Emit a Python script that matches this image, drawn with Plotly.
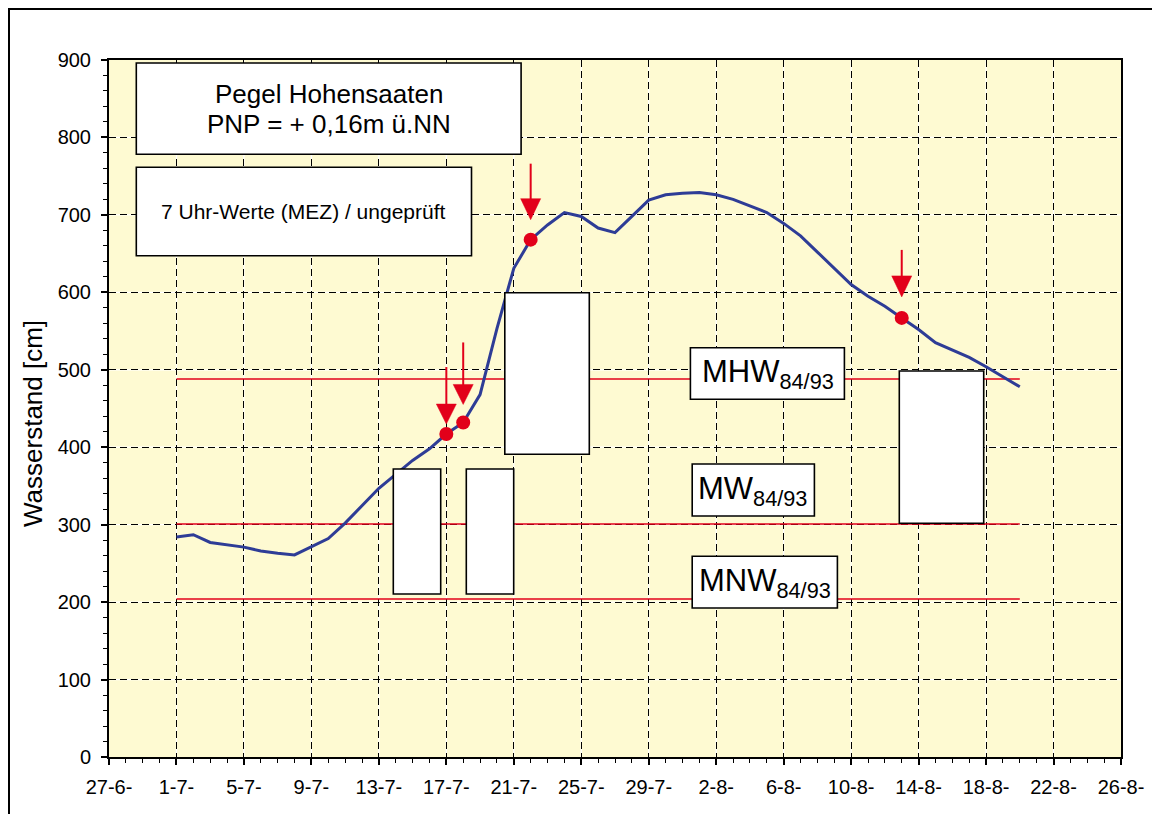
import plotly.graph_objects as go

# ---------------- data ----------------
dates = [
    "1997-07-01", "1997-07-02", "1997-07-03", "1997-07-04", "1997-07-05", "1997-07-06",
    "1997-07-07", "1997-07-08", "1997-07-09", "1997-07-10", "1997-07-11", "1997-07-12",
    "1997-07-13", "1997-07-14", "1997-07-15", "1997-07-16", "1997-07-17", "1997-07-18",
    "1997-07-19", "1997-07-20", "1997-07-21", "1997-07-22", "1997-07-23", "1997-07-24",
    "1997-07-25", "1997-07-26", "1997-07-27", "1997-07-28", "1997-07-29", "1997-07-30",
    "1997-07-31", "1997-08-01", "1997-08-02", "1997-08-03", "1997-08-04", "1997-08-05",
    "1997-08-06", "1997-08-07", "1997-08-08", "1997-08-09", "1997-08-10", "1997-08-11",
    "1997-08-12", "1997-08-13", "1997-08-14", "1997-08-15", "1997-08-16", "1997-08-17",
    "1997-08-18", "1997-08-19", "1997-08-20",
]
water_level = [
    284, 287, 277, 274, 271, 266,
    263, 261, 272, 282, 302, 325,
    347, 365, 383, 398, 417, 432,
    468, 553, 631, 668, 687, 703,
    698, 683, 677, 698, 719, 726,
    728, 729, 726, 720, 712, 703,
    689, 673, 652, 631, 610, 595,
    582, 567, 552, 535, 526, 516,
    504, 491, 478,
]
marker_dates = ["1997-07-17", "1997-07-18", "1997-07-22", "1997-08-13"]
marker_values = [417, 432, 668, 567]

ref_dates = ["1997-07-01", "1997-08-20"]
mhw_values = [488, 488]
mw_values = [301, 301]
mnw_values = [204, 204]

tick_dates = [
    "1997-06-27", "1997-07-01", "1997-07-05", "1997-07-09", "1997-07-13", "1997-07-17",
    "1997-07-21", "1997-07-25", "1997-07-29", "1997-08-02", "1997-08-06", "1997-08-10",
    "1997-08-14", "1997-08-18", "1997-08-22", "1997-08-26",
]
tick_labels = [
    "27-6-", "1-7-", "5-7-", "9-7-", "13-7-", "17-7-", "21-7-", "25-7-", "29-7-",
    "2-8-", "6-8-", "10-8-", "14-8-", "18-8-", "22-8-", "26-8-",
]
y_ticks = [0, 100, 200, 300, 400, 500, 600, 700, 800, 900]

# ---------------- styling ----------------
FONT = "Liberation Sans, Arial, sans-serif"
RED = "#E2001A"
BLUE = "#2E3C96"
BG = "#FEFAD2"

PAGE_W, PAGE_H = 1160, 814
OFF = 8  # default body margin of the html page
# plot area in page pixels
L, T, R, B = 109, 60, 1121, 757
W, H = R - L, B - T


def fx(x):
    return (x - L) / W


def fy(y):
    return (B - y) / H


fig = go.Figure()

for vals in (mhw_values, mw_values, mnw_values):
    fig.add_trace(go.Scatter(x=ref_dates, y=vals, mode="lines",
                             line=dict(color=RED, width=1.5), hoverinfo="skip"))

fig.add_trace(go.Scatter(x=dates, y=water_level, mode="lines",
                         line=dict(color=BLUE, width=3)))
fig.add_trace(go.Scatter(x=marker_dates, y=marker_values, mode="markers",
                         marker=dict(color=RED, size=14, line=dict(width=0))))

shapes = []

# white underlay for the dashed grid
for v in y_ticks[1:-1]:
    shapes.append(dict(type="line", xref="paper", yref="y", x0=0, x1=1, y0=v, y1=v,
                       line=dict(color="white", width=1.3), layer="below"))
for d in tick_dates[1:-1]:
    shapes.append(dict(type="line", xref="x", yref="paper", x0=d, x1=d, y0=0, y1=1,
                       line=dict(color="white", width=1.3), layer="below"))

# arrows above the marked points (pixel offsets: tip, triangle top, line top)
arrow_geom = [(10, 30, 67), (18, 38, 80), (20, 41, 76), (21, 42, 68)]
for d, v, (tip, ttop, ltop) in zip(marker_dates, marker_values, arrow_geom):
    shapes.append(dict(type="line", xref="x", yref="y", xsizemode="pixel", ysizemode="pixel",
                       xanchor=d, yanchor=v, x0=0, x1=0, y0=ttop - 2, y1=ltop,
                       line=dict(color=RED, width=2), layer="above"))
    shapes.append(dict(type="path", xref="x", yref="y", xsizemode="pixel", ysizemode="pixel",
                       xanchor=d, yanchor=v,
                       path=f"M -10,{ttop} L 10,{ttop} L 0,{tip} Z",
                       fillcolor=RED, line=dict(color=RED, width=0.5), layer="above"))

# white boxes (page pixel positions)
boxes = [
    (136.3, 63, 521.1, 154.3),
    (136.3, 167.3, 471.5, 255.7),
    (393.3, 469, 440.7, 594),
    (466.3, 469, 513.7, 594),
    (504.8, 292.7, 589.3, 454.3),
    (899.3, 371, 983.7, 523.3),
    (690.4, 347.7, 844.4, 399.3),
    (692.2, 464, 814.4, 516),
    (692.2, 556.3, 837.4, 608),
]
for x0, y0, x1, y1 in boxes:
    shapes.append(dict(type="rect", xref="paper", yref="paper",
                       x0=fx(x0), x1=fx(x1), y0=fy(y1), y1=fy(y0),
                       fillcolor="white", line=dict(color="black", width=1.6), layer="above"))

# outer frame (left and top edges visible)
shapes.append(dict(type="rect", xref="paper", yref="paper",
                   x0=fx(OFF + 1), x1=fx(1400), y0=fy(1000), y1=fy(OFF + 1),
                   fillcolor="rgba(0,0,0,0)", line=dict(color="black", width=2), layer="above"))

annotations = [
    dict(text="Pegel Hohensaaten", x=fx(328.7), y=fy(94), size=26),
    dict(text="PNP = + 0,16m ü.NN", x=fx(328.7), y=fy(124), size=26),
    dict(text="7 Uhr-Werte (MEZ) / ungeprüft", x=fx(303.9), y=fy(211), size=21),
    dict(text="MHW<sub>84/93</sub>", x=fx(768), y=fy(374), size=31),
    dict(text="MW<sub>84/93</sub>", x=fx(752), y=fy(491), size=31),
    dict(text="MNW<sub>84/93</sub>", x=fx(765), y=fy(583), size=31),
]
ann = []
for a in annotations:
    ann.append(dict(text=a["text"], x=a["x"], y=a["y"], xref="paper", yref="paper",
                    xanchor="center", yanchor="middle", showarrow=False,
                    font=dict(family=FONT, size=a["size"], color="black")))
ann.append(dict(text="Wasserstand [cm]", x=fx(33), y=fy(424), xref="paper", yref="paper",
                xanchor="center", yanchor="middle", showarrow=False, textangle=-90,
                font=dict(family=FONT, size=26, color="black")))

fig.update_layout(
    width=PAGE_W - OFF, height=PAGE_H - OFF,
    margin=dict(l=L - OFF, r=PAGE_W - R, t=T - OFF, b=PAGE_H - B, autoexpand=False),
    paper_bgcolor="white", plot_bgcolor=BG,
    showlegend=False,
    font=dict(family=FONT, color="black"),
    shapes=shapes, annotations=ann,
    xaxis=dict(
        type="date", range=[tick_dates[0], tick_dates[-1]],
        tickmode="array", tickvals=tick_dates, ticktext=tick_labels,
        ticks="outside", ticklen=6, tickwidth=1.5, tickcolor="black",
        tickfont=dict(family=FONT, size=20, color="black"), ticklabelstandoff=5,
        showline=True, linecolor="black", linewidth=2, mirror=True,
        showgrid=True, gridcolor="black", gridwidth=1.3, griddash="7px,4px",
        zeroline=False,
        minor=dict(ticks="outside", ticklen=4, tickwidth=1.3, tickcolor="black",
                   dtick=86400000, tick0=tick_dates[0], showgrid=False),
    ),
    yaxis=dict(
        range=[0, 900], tickmode="array", tickvals=y_ticks,
        ticks="outside", ticklen=6, tickwidth=1.5, tickcolor="black",
        tickfont=dict(family=FONT, size=20, color="black"), ticklabelstandoff=6,
        showline=True, linecolor="black", linewidth=2, mirror=True,
        showgrid=True, gridcolor="black", gridwidth=1.3, griddash="7px,4px",
        zeroline=False,
        minor=dict(ticks="outside", ticklen=4, tickwidth=1.3, tickcolor="black",
                   dtick=20, tick0=0, showgrid=False),
    ),
)

fig.write_html("out.html")
